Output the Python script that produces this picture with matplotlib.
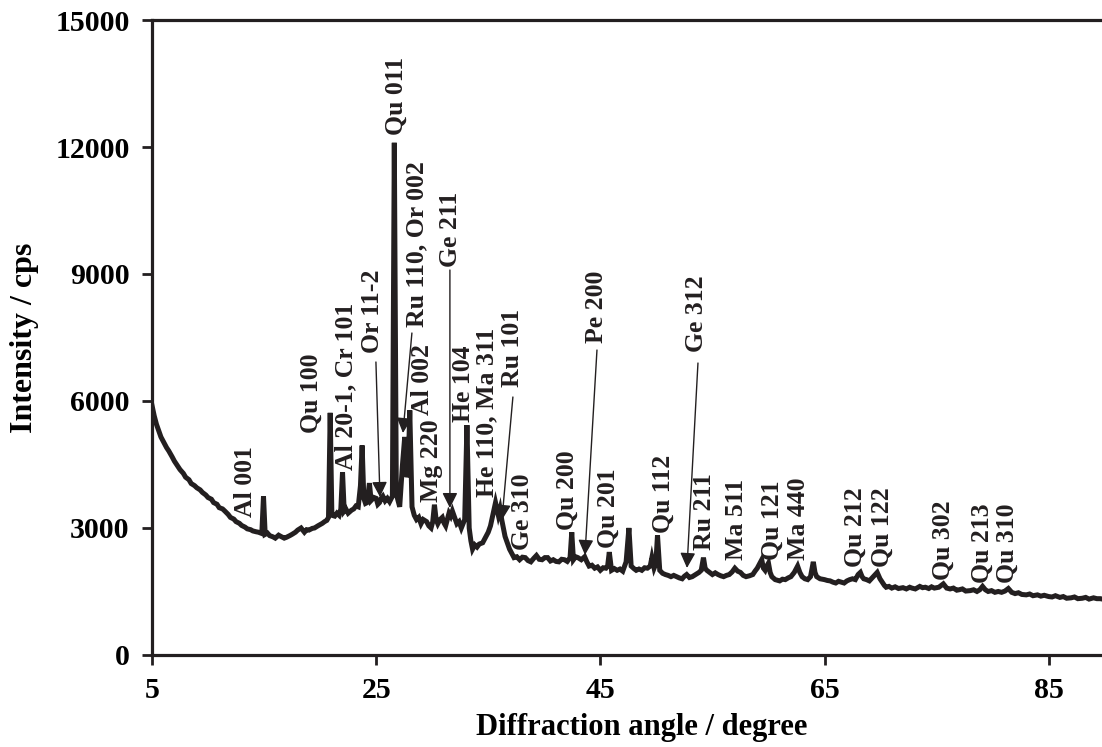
import matplotlib
matplotlib.use("Agg")
import matplotlib.pyplot as plt

# diffraction pattern, (2theta in degree, intensity in cps)
region_5_21 = [(5.0, 5900), (5.2, 5650), (5.4, 5450), (5.6, 5300), (5.8, 5150), (6.0, 5050),
               (6.3, 4900), (6.5, 4820), (6.8, 4680), (7.0, 4580), (7.3, 4460), (7.5, 4380),
               (7.8, 4290), (8.0, 4200), (8.3, 4140), (8.5, 4050), (8.8, 4000), (9.0, 3950),
               (9.3, 3900), (9.5, 3840), (9.8, 3780), (10.0, 3720), (10.3, 3680), (10.5, 3600),
               (10.8, 3560), (11.0, 3480), (11.3, 3450), (11.5, 3400), (11.8, 3320), (12.0, 3250),
               (12.3, 3210), (12.5, 3150), (12.8, 3110), (13.0, 3060), (13.3, 3020), (13.5, 2980),
               (13.8, 2960), (14.0, 2930), (14.3, 2910), (14.5, 2900), (14.8, 2870), (14.95, 3750),
               (15.1, 2850), (15.3, 2880), (15.5, 2820), (15.8, 2790), (16.0, 2760), (16.3, 2830),
               (16.5, 2800), (16.8, 2760), (17.0, 2780), (17.3, 2820), (17.5, 2850), (17.8, 2900),
               (18.0, 2950), (18.3, 3000), (18.6, 2900), (18.8, 2960), (19.0, 2950), (19.3, 2990),
               (19.5, 3000), (19.8, 3050), (20.0, 3080), (20.2, 3110), (20.4, 3150), (20.6, 3180),
               (20.75, 3250)]
region_21_38 = [(20.9, 5720), (21.05, 3300), (21.3, 3280), (21.5, 3350), (21.7, 3300), (21.85, 3450),
                (22.0, 4320), (22.15, 3400), (22.3, 3450), (22.5, 3350), (22.8, 3420), (23.0, 3450),
                (23.2, 3520), (23.4, 3500), (23.6, 4000), (23.75, 4950), (23.9, 3700), (24.05, 3580),
                (24.2, 3600), (24.4, 4060), (24.55, 3650), (24.8, 3720), (25.0, 3700), (25.15, 3560),
                (25.3, 3600), (25.45, 3700), (25.6, 3750), (25.8, 3640), (26.0, 3700), (26.2, 3620),
                (26.45, 3750), (26.62, 12100), (26.8, 3800), (27.0, 3600), (27.1, 3500), (27.35, 4500),
                (27.55, 5150), (27.75, 4200), (27.85, 4300), (28.0, 5780), (28.2, 3500), (28.4, 3300),
                (28.6, 3200), (28.8, 3250), (29.0, 3100), (29.2, 3200), (29.5, 3150), (29.7, 3050),
                (29.9, 3000), (30.05, 3150), (30.2, 3550), (30.35, 3200), (30.5, 3100), (30.7, 3200),
                (30.9, 3250), (31.05, 3120), (31.2, 3050), (31.35, 3200), (31.5, 3350), (31.65, 3280),
                (31.8, 3400), (32.0, 3250), (32.2, 3100), (32.4, 3150), (32.6, 3000), (32.75, 3100),
                (32.9, 3200), (33.1, 5430), (33.3, 3000), (33.45, 2700), (33.6, 2500), (33.8, 2600),
                (34.0, 2550), (34.2, 2620), (34.5, 2650), (34.7, 2750), (35.0, 2900), (35.2, 3050),
                (35.4, 3300), (35.65, 3600), (35.9, 3300), (36.05, 3450), (36.2, 3200), (36.35, 3000),
                (36.5, 2800), (36.7, 2650), (36.9, 2500), (37.1, 2400), (37.3, 2300), (37.55, 2320),
                (37.8, 2250)]
region_38_60 = [(38.05, 2310), (38.3, 2300), (38.55, 2230), (38.8, 2200), (39.05, 2280), (39.3, 2350),
                (39.55, 2260), (39.8, 2250), (40.05, 2300), (40.3, 2300), (40.55, 2220), (40.8, 2250),
                (41.05, 2210), (41.3, 2200), (41.55, 2260), (41.8, 2250), (42.05, 2210), (42.3, 2300),
                (42.45, 2900), (42.6, 2250), (42.8, 2320), (43.0, 2300), (43.3, 2250), (43.6, 2320),
                (43.8, 2200), (44.0, 2100), (44.25, 2120), (44.5, 2050), (44.75, 2080), (45.0, 2000),
                (45.25, 2060), (45.5, 2050), (45.65, 2100), (45.8, 2430), (46.0, 2000), (46.25, 2040),
                (46.5, 2000), (46.75, 2030), (47.0, 1980), (47.3, 2200), (47.55, 3000), (47.75, 2100),
                (48.0, 2040), (48.2, 2000), (48.45, 2030), (48.7, 2000), (48.95, 2060), (49.2, 2050),
                (49.45, 2100), (49.6, 2300), (49.8, 2050), (49.95, 2150), (50.1, 2830), (50.3, 2000),
                (50.55, 1930), (50.8, 1900), (51.05, 1880), (51.3, 1850), (51.55, 1880), (51.8, 1850),
                (52.05, 1820), (52.3, 1800), (52.5, 1860), (52.7, 1900), (52.95, 1830), (53.2, 1850),
                (53.5, 1900), (53.8, 1950), (54.0, 2000), (54.2, 2300), (54.35, 2050), (54.5, 2000),
                (54.75, 1950), (55.0, 1900), (55.25, 1940), (55.5, 1900), (55.75, 1870), (56.0, 1850),
                (56.25, 1880), (56.5, 1900), (56.75, 1960), (57.0, 2050), (57.25, 1980), (57.5, 1950),
                (57.75, 1880), (58.0, 1850), (58.3, 1870), (58.6, 1900), (58.8, 1980), (59.0, 2050),
                (59.2, 2150), (59.4, 2250), (59.55, 2050), (59.7, 2000), (59.85, 2100), (60.0, 2170),
                (60.15, 1950), (60.3, 1850)]
region_60_92 = [(60.6, 1780), (61.0, 1750), (61.25, 1790), (61.5, 1780), (61.75, 1820), (62.0, 1850),
                (62.3, 1950), (62.6, 2100), (62.8, 1950), (63.0, 1850), (63.25, 1800), (63.5, 1780),
                (63.75, 1850), (64.0, 2200), (64.15, 1950), (64.3, 1850), (64.6, 1800), (65.0, 1780),
                (65.25, 1760), (65.5, 1750), (65.75, 1720), (66.0, 1700), (66.25, 1740), (66.5, 1720),
                (66.75, 1700), (67.0, 1750), (67.25, 1780), (67.5, 1800), (67.75, 1780), (68.0, 1900),
                (68.2, 1950), (68.35, 1850), (68.5, 1800), (68.75, 1780), (69.0, 1750), (69.35, 1850),
                (69.7, 1950), (69.95, 1800), (70.2, 1700), (70.35, 1640), (70.5, 1600), (70.75, 1620),
                (71.0, 1580), (71.3, 1610), (71.6, 1570), (72.0, 1590), (72.3, 1560), (72.6, 1600),
                (72.8, 1580), (73.1, 1560), (73.5, 1620), (73.75, 1590), (74.0, 1600), (74.3, 1570),
                (74.55, 1610), (74.8, 1580), (75.2, 1600), (75.6, 1680), (75.9, 1580), (76.2, 1560),
                (76.5, 1580), (76.8, 1530), (77.0, 1540), (77.3, 1560), (77.6, 1510), (78.0, 1520),
                (78.3, 1540), (78.6, 1500), (78.85, 1540), (79.1, 1620), (79.35, 1540), (79.6, 1500),
                (79.9, 1520), (80.2, 1480), (80.5, 1500), (80.8, 1480), (81.1, 1510), (81.4, 1570),
                (81.7, 1480), (82.0, 1450), (82.3, 1470), (82.6, 1430), (83.0, 1420), (83.3, 1440),
                (83.6, 1400), (84.0, 1420), (84.3, 1390), (84.6, 1410), (85.0, 1380), (85.3, 1370),
                (85.6, 1400), (86.0, 1360), (86.3, 1380), (86.6, 1340), (87.0, 1350), (87.3, 1370),
                (87.6, 1330), (88.0, 1340), (88.3, 1360), (88.6, 1320), (89.0, 1350), (89.3, 1330),
                (89.6, 1330), (90.0, 1310), (90.5, 1330), (91.0, 1300), (92.4, 1320)]

# peak labels: text, x, y of the text foot
peak_labels = ["Al 001", "Qu 100", "Al 20-1, Cr 101", "Or 11-2", "Qu 011", "Ru 110, Or 002",
               "Al 002", "Mg 220", "Ge 211", "He 104", "He 110, Ma 311", "Ru 101", "Ge 310",
               "Qu 200", "Pe 200", "Qu 201", "Qu 112", "Ge 312", "Ru 211", "Ma 511", "Qu 121",
               "Ma 440", "Qu 212", "Qu 122", "Qu 302", "Qu 213", "Qu 310"]
label_x = [13.3, 19.18, 22.31, 24.63, 26.77, 28.64, 29.17, 29.98, 31.67, 32.83, 34.88, 37.2, 38.1,
           42.02, 44.7, 45.68, 50.58, 53.62, 54.33, 57.19, 60.31, 62.72, 67.71, 70.12, 75.56,
           79.04, 81.27]
label_y = [3260, 5244, 4370, 7133, 12282, 7747, 5669, 3614, 9165, 5503, 3732, 6330, 2480,
           2953, 7369, 2527, 2882, 7157, 2480, 2244, 2244, 2244, 2079, 2079, 1772, 1701, 1701]

# arrows: start (below the text) and tip (on the curve)
arrow_start = [(24.98, 6921), (28.19, 7606), (31.58, 9094), (37.2, 6094), (44.7, 7204), (53.71, 6897)]
arrow_tip = [(25.34, 3732), (27.39, 5244), (31.58, 3472), (36.22, 3189), (43.63, 2362), (52.73, 2055)]

plt.rcParams['font.family'] = ['Liberation Serif', 'DejaVu Serif']
plt.rcParams['font.weight'] = 'bold'

pattern = region_5_21 + region_21_38 + region_38_60 + region_60_92
two_theta = [p[0] for p in pattern]
intensity = [p[1] for p in pattern]

ink = '#231f20'
fig = plt.figure(figsize=(11.02, 7.47), dpi=100)
ax = fig.add_axes([0.1379, 0.1232, 0.889, 0.85])

ax.plot(two_theta, intensity, color=ink, lw=3.6, solid_joinstyle='miter')

for txt, lx, ly in zip(peak_labels, label_x, label_y):
    ax.text(lx, ly, txt, rotation=90, ha='center', va='bottom', fontsize=18.5,
            fontweight='bold', color=ink)

for (sx, sy), (tx, ty) in zip(arrow_start, arrow_tip):
    ax.annotate('', xy=(tx, ty), xytext=(sx, sy),
                arrowprops=dict(arrowstyle='-|>', lw=1.0, color=ink, mutation_scale=23,
                                shrinkA=0, shrinkB=0))

ax.set_xlim(5, 92.4)
ax.set_ylim(0, 15000)
ax.set_xticks([5, 25, 45, 65, 85])
ax.set_yticks([0, 3000, 6000, 9000, 12000, 15000])
ax.tick_params(direction='out', length=7, width=2, color=ink, labelsize=21.5, pad=9)
for lab in ax.get_xticklabels() + ax.get_yticklabels():
    lab.set_fontweight('bold')
for s in ax.spines.values():
    s.set_linewidth(2.3)
    s.set_color(ink)

ax.set_xlabel('Diffraction angle / degree', fontsize=22, fontweight='bold')
ax.set_ylabel('Intensity / cps', fontsize=23, fontweight='bold')
ax.xaxis.label.set_verticalalignment('center')
ax.yaxis.label.set_verticalalignment('center')
ax.xaxis.set_label_coords(0.5, -0.115)
ax.yaxis.set_label_coords(-0.13, 0.5)

fig.savefig('out.png', dpi=100)
